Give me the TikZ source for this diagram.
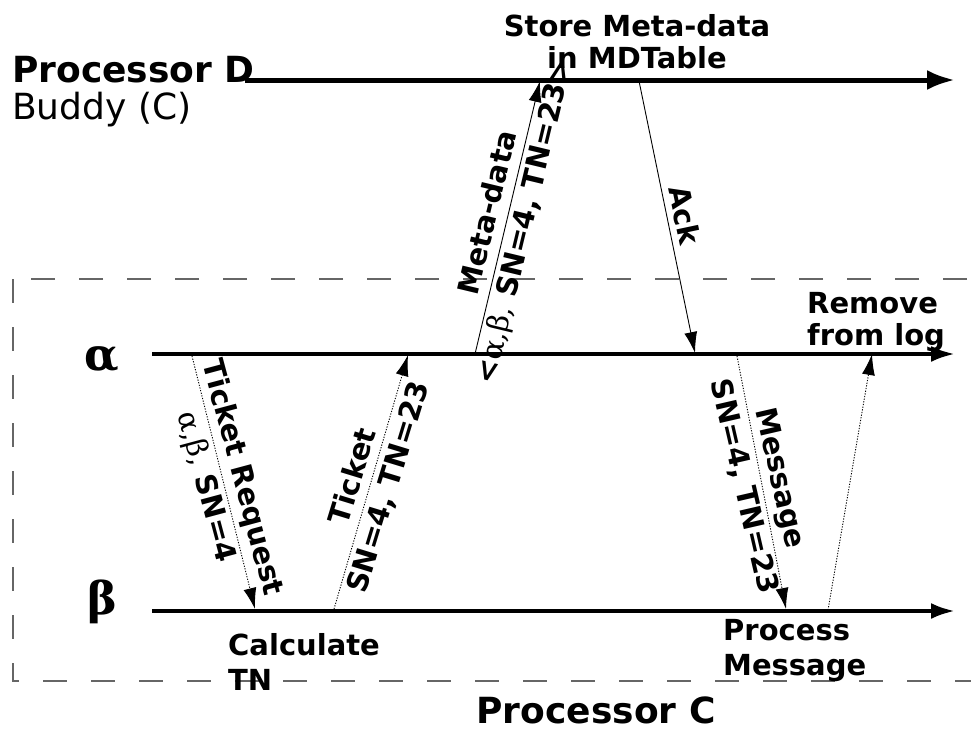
\documentclass[tikz,border=0pt]{standalone}
\usepackage{fontspec}
\setmainfont{DejaVu Sans}
\newfontfamily\greekserif{DejaVu Serif}
\usetikzlibrary{arrows.meta}

\begin{document}
\begin{tikzpicture}[x=1pt, y=-1pt,
  lbl/.style={font=\fontsize{29}{37}\selectfont\bfseries, inner sep=0pt, align=center},
  txt/.style={font=\fontsize{29}{32}\selectfont\bfseries, inner sep=0pt},
  bigtitle/.style={font=\fontsize{36}{40}\selectfont\bfseries, inner sep=0pt},
  procname/.style={font=\fontsize{45}{50}\selectfont\greekserif\bfseries, inner sep=0pt},
  timeline/.style={line width=4pt, -{Latex[length=24pt,width=16pt]}},
  mainline/.style={line width=5pt, -{Latex[length=28pt,width=20pt]}},
  msg/.style={line width=0.9pt, -{Latex[length=21pt,width=13pt]}},
  dotmsg/.style={msg, dash pattern=on 1.2pt off 1.5pt},
  frame/.style={black!60, line width=1.3pt, dash pattern=on 24pt off 24pt},
]
\useasboundingbox (0,0) rectangle (971,731);

% dashed frame around processor C
\begin{scope}
  \clip (0,0) rectangle (971,731);
  \draw[frame] (13,279) rectangle (1000,681);
\end{scope}

% processor D timeline
\node[bigtitle, anchor=base west] (pd) at (12,82) {Processor D};
\node[font=\fontsize{36}{40}\selectfont, inner sep=0pt, anchor=base west] (buddy) at (12,119) {Buddy (C)};
\coordinate (Ds) at (245,80);
\coordinate (De) at (955,80);
\draw[mainline] (Ds) -- (De);

% processor C timelines
\node[procname, anchor=base] (alpha) at (102,370) {α};
\node[procname, anchor=base] (beta) at (102,614) {β};
\coordinate (As) at (152,354);
\coordinate (Ae) at (955,354);
\coordinate (Bs) at (152,611);
\coordinate (Be) at (955,611);
\draw[timeline] (As) -- (Ae);
\draw[timeline] (Bs) -- (Be);

% message end points
\coordinate (a1) at (192,356);
\coordinate (b1) at (255,609);
\coordinate (b2) at (334,609);
\coordinate (a2) at (408,355);
\coordinate (a3) at (475,354);
\coordinate (d3) at (540,81);
\coordinate (d4) at (639,81);
\coordinate (a4) at (695,353);
\coordinate (a5) at (737,356);
\coordinate (b5) at (786,609);
\coordinate (b6) at (828,610);
\coordinate (a6) at (872,354);

% messages
\draw[dotmsg] (a1) -- node[lbl, rotate=-75] (treq) {Ticket Request\\{\mdseries\greekserif α,β,} SN=4} (b1);
\draw[dotmsg] (b2) -- node[lbl, rotate=73] (tick) {Ticket\\SN=4, TN=23} (a2);
\draw[msg] (a3) -- node[lbl, rotate=76.5] (meta) {Meta-data\\<{\mdseries\greekserif α,β,} SN=4, TN=23>} (d3);
\draw[msg] (d4) -- (a4);
\node[lbl, rotate=-78] (ack) at (685,215) {Ack};
\draw[dotmsg] (a5) -- node[lbl, rotate=-77] (mess) {Message\\SN=4, TN=23} (b5);
\draw[dotmsg] (b6) -- (a6);

% actions
\node[txt, anchor=base] (store1) at (637,36) {Store Meta-data};
\node[txt, anchor=base] (store2) at (637,68) {in MDTable};
\node[txt, anchor=base west] (rem1) at (807,313) {Remove};
\node[txt, anchor=base west] (rem2) at (807,345) {from log};
\node[txt, anchor=base west] (proc1) at (723,640) {Process};
\node[txt, anchor=base west] (proc2) at (723,675) {Message};
\node[txt, anchor=base west] (calc1) at (228,655) {Calculate};
\node[txt, anchor=base west] (calc2) at (228,690) {TN};

\node[bigtitle, anchor=base] (pc) at (596,723) {Processor C};
\end{tikzpicture}
\end{document}
